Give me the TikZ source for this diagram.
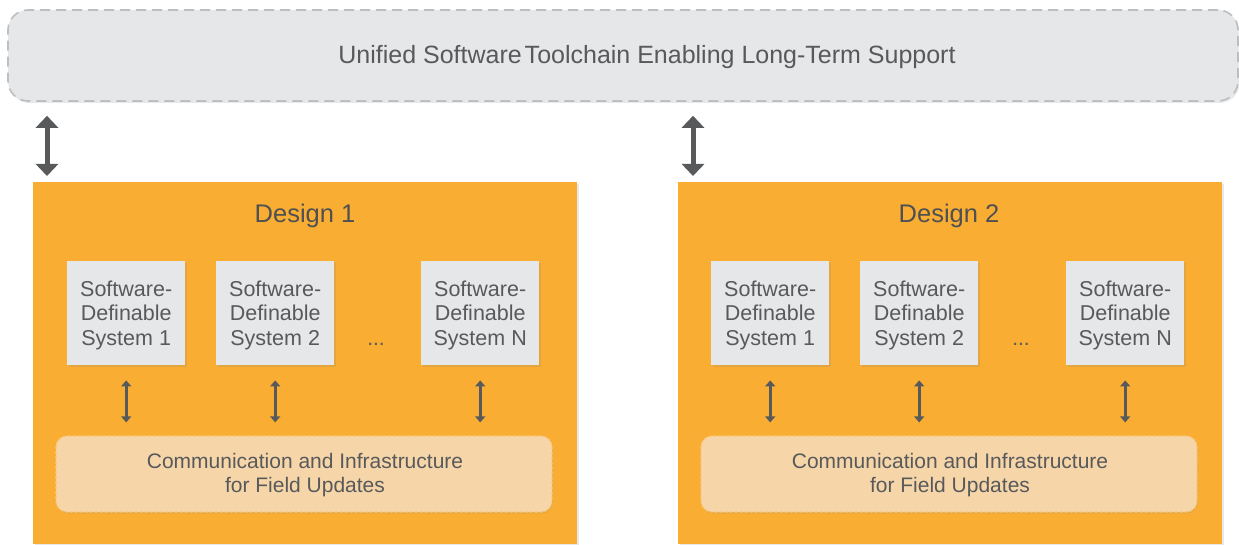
\documentclass[tikz,border=0pt]{standalone}
\usepackage{fontspec}
\setmainfont{Liberation Sans}
\usetikzlibrary{arrows.meta,shadows,calc,positioning}
\definecolor{txt}{HTML}{58595B}
\definecolor{arr}{HTML}{58595B}
\definecolor{paleg}{HTML}{E6E7E8}
\definecolor{dashg}{HTML}{BCBEC0}
\definecolor{amber}{HTML}{F9AE33}
\definecolor{peach}{HTML}{F6D6A9}
\definecolor{peachline}{HTML}{F8C77C}
\tikzset{
  softshadow/.style={drop shadow={opacity=0.18,shadow xshift=1.5pt,shadow yshift=-2pt}},
  topbox/.style={draw=dashg,line width=1.6pt,dash pattern=on 10pt off 6pt,fill=paleg,
    rounded corners=20pt,minimum width=1230pt,minimum height=91pt,inner sep=0pt,
    text=txt,font=\fontsize{25}{29}\selectfont,softshadow},
  designbox/.style={fill=amber,minimum width=544pt,minimum height=362pt,inner sep=0pt,
    anchor=north west,softshadow},
  designtitle/.style={text=txt!90!black,font=\fontsize{25.5}{29}\selectfont},
  sysbox/.style={fill=paleg,minimum width=118pt,minimum height=104pt,inner sep=0pt,
    anchor=north west,align=center,text=txt,font=\fontsize{21.5}{24.5}\selectfont,softshadow},
  systext/.style={align=center,text=txt,font=\fontsize{21.5}{24.5}\selectfont},
  commbox/.style={fill=peach,draw=peachline,line width=1.2pt,dash pattern=on 3pt off 2pt,
    rounded corners=11pt,minimum width=496pt,minimum height=76pt,inner sep=0pt,
    drop shadow={opacity=0.15,shadow xshift=1pt,shadow yshift=-1.5pt}},
  commtext/.style={align=center,text=txt,font=\fontsize{21}{24}\selectfont},
  bigarrow/.style={draw=arr,line width=5pt,
    {Triangle[width=22pt,length=12pt]}-{Triangle[width=22pt,length=12pt]}},
  smallarrow/.style={draw=arr,line width=2.6pt,
    {Triangle[width=10pt,length=6pt]}-{Triangle[width=10pt,length=6pt]}},
  dotsnode/.style={text=txt,font=\fontsize{21}{24}\selectfont}
}
\begin{document}
\begin{tikzpicture}[x=1pt,y=-1pt]
  \useasboundingbox (0,0) rectangle (1239,545);

  % shared toolchain bar
  \node[topbox] (top) at (623,55.5) {};
  \node[text=txt,font=\fontsize{25}{29}\selectfont] (toptext) at (647,57) {Unified Software\hspace{-4pt} Toolchain Enabling Long-Term Support};

  % design 1
  \node[designbox] (d1) at (33,182) {};
  \node[designtitle] (t1) at (305,216) {Design 1};
  \node[sysbox] (a1) at (67,261) {};
  \node[sysbox] (a2) at (216,261) {};
  \node[sysbox] (a3) at (421,261) {};
  \node[systext] at ($(a1.center)+(0,2)$) {Software-\\Definable\\System 1};
  \node[systext] at ($(a2.center)+(0,2)$) {Software-\\Definable\\System 2};
  \node[systext] at ($(a3.center)+(0,2)$) {Software-\\Definable\\System N};
  \node[dotsnode] (a4) at (376,344) {...};
  \node[commbox] (c1) at (304,474) {};
  \node[commtext] at (305,475) {Communication and Infrastructure\\for Field Updates};

  % design 2
  \node[designbox] (d2) at (678,182) {};
  \node[designtitle] (t2) at (949,216) {Design 2};
  \node[sysbox] (b1) at (711,261) {};
  \node[sysbox] (b2) at (860,261) {};
  \node[sysbox] (b3) at (1066,261) {};
  \node[systext] at ($(b1.center)+(0,2)$) {Software-\\Definable\\System 1};
  \node[systext] at ($(b2.center)+(0,2)$) {Software-\\Definable\\System 2};
  \node[systext] at ($(b3.center)+(0,2)$) {Software-\\Definable\\System N};
  \node[dotsnode] (b4) at (1021,344) {...};
  \node[commbox] (c2) at (949,474) {};
  \node[commtext] at (950,475) {Communication and Infrastructure\\for Field Updates};

  % links to the toolchain
  \draw[bigarrow] ($(d1.north west |- top.south)+(14,14)$) -- ($(d1.north west)+(14,-6)$);
  \draw[bigarrow] ($(d2.north west |- top.south)+(15,14)$) -- ($(d2.north west)+(15,-6)$);

  % links between systems and update infrastructure
  \foreach \s/\c in {a1/c1,a2/c1,a3/c1,b1/c2,b2/c2,b3/c2}{
    \draw[smallarrow] ($(\s.south)+(0,15)$) -- ($(\s.south |- \c.north)+(0,-13)$);
  }
\end{tikzpicture}
\end{document}
